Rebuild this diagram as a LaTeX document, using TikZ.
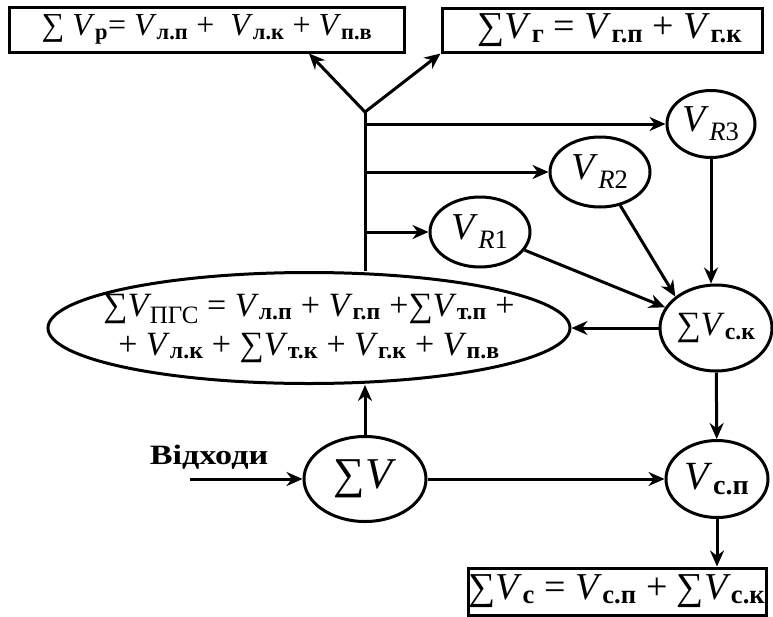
\documentclass[tikz,border=0pt]{standalone}
\usepackage{fontspec}
\usepackage{graphicx}
\setmainfont{Liberation Serif}
\usetikzlibrary{shapes.geometric,arrows.meta}
\newcommand{\vv}{\textit{V}}
\newcommand{\sbb}[1]{\textsubscript{\bfseries #1}}
\newcommand{\fsz}[2]{\fontsize{#1}{#2}\selectfont}

\begin{document}
\begin{tikzpicture}[x=1pt,y=-1pt,
    oval/.style={draw,ellipse,line width=3pt,inner sep=-6pt},
    frame/.style={draw,rectangle,line width=3pt,inner sep=0pt},
    arr/.style={-{Stealth[length=16pt,width=14pt]},line width=3pt}]
  \useasboundingbox (0,0) rectangle (773,616);
  \node[frame,minimum width=395pt,minimum height=45pt,font=\fsz{32}{38}] (sp) at (207,29.5)
    {∑ \vv\sbb{р}= \vv\sbb{л.п} +~ \vv\sbb{л.к} + \vv\sbb{п.в}};
  \node[frame,minimum width=320pt,minimum height=44pt,font=\fsz{38}{44}] (sg) at (602,30)
    {\hspace*{16pt}∑\vv\sbb{г} = \vv\sbb{г.п} + \vv\sbb{г.к}};
  \node[oval,minimum width=88pt,minimum height=67pt,font=\fsz{38}{44}] (R3) at (711,124) {\vv\textsubscript{\textit{R}3}};
  \node[oval,minimum width=100pt,minimum height=70pt,font=\fsz{38}{44}] (R2) at (600,172) {\vv\textsubscript{\textit{R}2}};
  \node[oval,minimum width=100pt,minimum height=70pt,font=\fsz{38}{44}] (R1) at (480,232) {\vv\textsubscript{\textit{R}1}};
  \node[oval,minimum width=112pt,minimum height=86pt,font=\fsz{34}{38}] (ck) at (716,328) {∑\vv\sbb{с.к}};
  \node[oval,minimum width=522pt,minimum height=111pt,inner xsep=-70pt,inner ysep=-4pt,
    align=center,font=\fsz{34}{39}] (pgs) at (309,328)
    {∑\vv\kern-2pt\raisebox{-7pt}{\fsz{25}{28}ПГС} = \vv\sbb{л.п} + \vv\sbb{г.п} +∑\vv\sbb{т.п} +\\
     + \vv\sbb{л.к} + ∑\vv\sbb{т.к} + \vv\sbb{г.к} + \vv\sbb{п.в}};
  \node[oval,minimum width=122pt,minimum height=85pt,font=\fsz{44}{50}] (sv) at (365,479) {∑\vv};
  \node[oval,minimum width=102pt,minimum height=77pt,font=\fsz{40}{46}] (cp) at (717,479) {\vv\sbb{с.п}};
  \node[frame,minimum width=298pt,minimum height=47pt,font=\fsz{38}{44}] (sc) at (617,591.5)
    {∑\vv\sbb{с} = \vv\sbb{с.п} + ∑\vv\sbb{с.к}};
  \node[font=\fsz{28}{32}\bfseries] (waste) at (209,457) {\scalebox{1.22}[1]{Відходи}};
  \coordinate (fork) at (365,112);
  \coordinate (in) at (190,479);

  \draw[arr] (fork) -- ([xshift=-97pt]sp.south east);
  \draw[arr] (fork) -- (sg.south west);
  \draw[line width=3pt] (fork) -- (fork |- pgs.north);
  \foreach \n in {R1,R2,R3}
    \draw[arr] (fork |- \n) -- (\n);
  \draw[arr] (R3) -- (R3 |- ck.north);
  \draw[arr] (R2) -- (ck.north west);
  \draw[arr] (R1) -- (ck);
  \draw[arr] (ck) -- (pgs);
  \draw[arr] (ck) -- (cp);
  \draw[arr] (cp) -- (cp |- sc.north);
  \draw[arr] (in) -- (sv);
  \draw[arr] (sv) -- (sv |- pgs.south);
  \draw[arr] (sv) -- (cp);
\end{tikzpicture}
\end{document}
